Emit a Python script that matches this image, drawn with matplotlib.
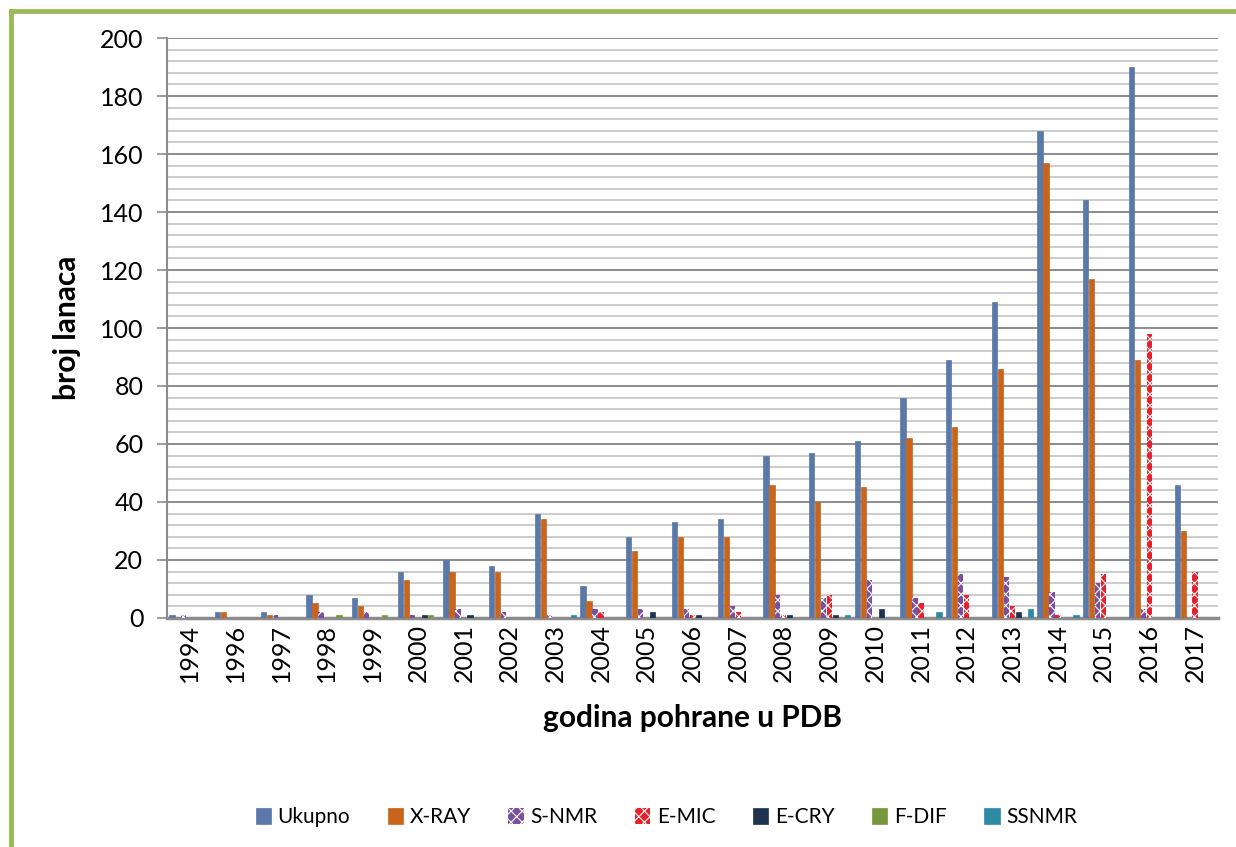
import numpy as np
import matplotlib.pyplot as plt
from matplotlib.lines import Line2D

plt.rcParams['font.family'] = ['Lato', 'DejaVu Sans']
plt.rcParams['hatch.linewidth'] = 0.8

# Data
years = ['1994', '1996', '1997', '1998', '1999', '2000', '2001', '2002', '2003',
         '2004', '2005', '2006', '2007', '2008', '2009', '2010', '2011', '2012',
         '2013', '2014', '2015', '2016', '2017']
ukupno = [1, 2, 2, 8, 7, 16, 20, 18, 36, 11, 28, 33, 34, 56, 57, 61, 76, 89, 109, 168, 144, 190, 46]
xray   = [0, 2, 1, 5, 4, 13, 16, 16, 34, 6, 23, 28, 28, 46, 40, 45, 62, 66, 86, 157, 117, 89, 30]
snmr   = [1, 0, 1, 2, 2, 1, 3, 2, 1, 3, 3, 3, 4, 8, 7, 13, 7, 15, 14, 9, 12, 3, 0]
emic   = [0, 0, 0, 0, 0, 0, 0, 0, 0, 2, 0, 1, 2, 1, 8, 0, 5, 8, 4, 1, 15, 98, 16]
ecry   = [0, 0, 0, 0, 0, 1, 1, 0, 0, 0, 2, 1, 0, 1, 1, 3, 0, 0, 2, 0, 0, 0, 0]
fdif   = [0, 0, 0, 1, 1, 1, 0, 0, 0, 0, 0, 0, 0, 0, 0, 0, 0, 0, 0, 0, 0, 0, 0]
ssnmr  = [0, 0, 0, 0, 0, 0, 0, 0, 1, 0, 0, 0, 0, 0, 1, 0, 2, 0, 3, 1, 0, 0, 0]

series = [
    ('Ukupno', ukupno, '#5A78A8', None),
    ('X-RAY', xray, '#C8641C', None),
    ('S-NMR', snmr, '#7A4EA0', 'xxx'),
    ('E-MIC', emic, '#E8202A', 'xxx'),
    ('E-CRY', ecry, '#1E3350', None),
    ('F-DIF', fdif, '#78963A', None),
    ('SSNMR', ssnmr, '#2E8AA4', None),
]

fig = plt.figure(figsize=(12.36, 8.47), dpi=100)
ax = fig.add_axes([0.1351, 0.2704, 0.8503, 0.6847])

x = np.arange(len(years))
step = 0.131
width = 0.115
for i, (name, vals, col, hatch) in enumerate(series):
    off = (i - 3) * step
    if hatch:
        ax.bar(x + off, vals, width, color=col, edgecolor='white', linewidth=0,
               hatch=hatch, label=name, zorder=3)
    else:
        ax.bar(x + off, vals, width, color=col, edgecolor=col, linewidth=0.5,
               label=name, zorder=3)

ax.set_xlim(-0.5, len(years) - 0.5)
ax.set_ylim(0, 200)
ax.set_yticks(np.arange(0, 201, 20))
ax.set_yticks(np.arange(0, 201, 4), minor=True)
ax.grid(axis='y', which='minor', color='#C4C4C4', linewidth=1.2, zorder=0)
ax.grid(axis='y', which='major', color='#8C8C8C', linewidth=1.4, zorder=1)
ax.tick_params(axis='y', which='major', length=7, width=1.2, color='#8C8C8C',
               labelsize=18, pad=10)
ax.tick_params(axis='y', which='minor', length=0)
ax.set_xticks(x)
ax.set_xticklabels(years, rotation=90, fontsize=18)
ax.tick_params(axis='x', length=0, pad=4)

for s in ['top', 'right']:
    ax.spines[s].set_visible(False)
ax.spines['left'].set_color('#8C8C8C')
ax.spines['left'].set_linewidth(1.5)
ax.spines['bottom'].set_color('#8C8C8C')
ax.spines['bottom'].set_linewidth(2.5)

ax.set_ylabel('broj lanaca', fontsize=21.5, fontweight='bold', va='center')
ax.yaxis.set_label_coords(-0.0951, 0.5)
ax.set_xlabel('godina pohrane u PDB', fontsize=21.5, fontweight='bold', va='center')
ax.xaxis.set_label_coords(0.5, -0.1724)

ax.legend(loc='center', bbox_to_anchor=(0.539, 0.035), bbox_transform=fig.transFigure,
          ncol=7, frameon=False, fontsize=15, handlelength=0.75, handleheight=0.75,
          handletextpad=0.3, columnspacing=1.8)

# green frame
fig.add_artist(Line2D([0.0089, 0.0089], [0, 0.9870], color='#9BBB59', linewidth=3.5,
                      transform=fig.transFigure))
fig.add_artist(Line2D([0.0089, 1.0], [0.9870, 0.9870], color='#9BBB59', linewidth=3.5,
                      transform=fig.transFigure))

fig.savefig('out.png', dpi=100)
